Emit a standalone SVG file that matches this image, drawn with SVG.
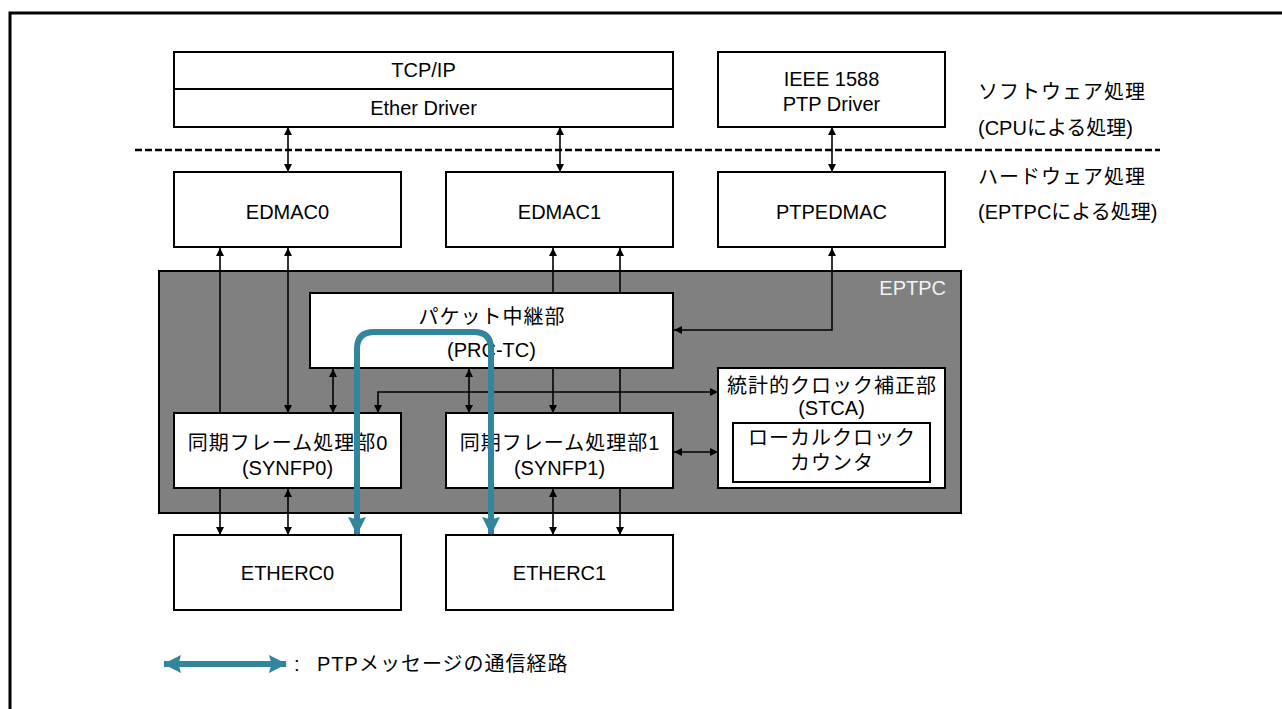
<svg xmlns="http://www.w3.org/2000/svg" width="1282" height="709" viewBox="0 0 1282 709">
<style>
text{font-family:"Liberation Sans","Noto Sans CJK JP",sans-serif;font-size:20px;fill:#000}
.c{text-anchor:middle}
.j{letter-spacing:1px}
.box{fill:#fff;stroke:#000;stroke-width:2}
.ln{fill:none;stroke:#000;stroke-width:1.6}
.tl{fill:none;stroke:#31859C;stroke-width:6}
</style>
<defs>
<marker id="ah" viewBox="0 0 10 10" refX="10" refY="5" markerWidth="9" markerHeight="8" markerUnits="userSpaceOnUse" orient="auto-start-reverse"><path d="M0,0 L10,5 L0,10 z" fill="#000"/></marker>
<marker id="th" viewBox="0 0 10 10" refX="9.5" refY="5" markerWidth="18" markerHeight="19" markerUnits="userSpaceOnUse" orient="auto-start-reverse"><path d="M0,0 L10,5 L0,10 L1.5,5 z" fill="#31859C"/></marker>
</defs>
<rect width="1282" height="709" fill="#fff"/>
<path d="M10,709 V13 H1282" fill="none" stroke="#000" stroke-width="3"/>
<line x1="135" y1="150" x2="1160" y2="150" stroke="#000" stroke-width="2.5" stroke-dasharray="7 3"/>
<g id="eptpc"><rect x="159" y="271" width="802" height="242" fill="#808080" stroke="#000" stroke-width="2"/><text x="946" y="295" style="text-anchor:end;fill:#f2f2f2">EPTPC</text></g>
<g id="connectors">
<line class="ln" x1="288" y1="127" x2="288" y2="172" marker-start="url(#ah)" marker-end="url(#ah)"/>
<line class="ln" x1="560" y1="127" x2="560" y2="172" marker-start="url(#ah)" marker-end="url(#ah)"/>
<line class="ln" x1="832" y1="127" x2="832" y2="172" marker-start="url(#ah)" marker-end="url(#ah)"/>
<line class="ln" x1="220" y1="413" x2="220" y2="248" marker-end="url(#ah)"/>
<line class="ln" x1="288" y1="248" x2="288" y2="413" marker-start="url(#ah)" marker-end="url(#ah)"/>
<line class="ln" x1="553" y1="248" x2="553" y2="413" marker-start="url(#ah)" marker-end="url(#ah)"/>
<line class="ln" x1="620" y1="413" x2="620" y2="248" marker-end="url(#ah)"/>
<polyline class="ln" points="832,248 832,330 674,330" marker-start="url(#ah)" marker-end="url(#ah)"/>
<line class="ln" x1="333" y1="369" x2="333" y2="413" marker-start="url(#ah)" marker-end="url(#ah)"/>
<line class="ln" x1="469" y1="369" x2="469" y2="413" marker-start="url(#ah)" marker-end="url(#ah)"/>
<polyline class="ln" points="378,413 378,392 718,392" marker-start="url(#ah)" marker-end="url(#ah)"/>
<line class="ln" x1="674" y1="452" x2="718" y2="452" marker-start="url(#ah)" marker-end="url(#ah)"/>
<line class="ln" x1="220" y1="489" x2="220" y2="535" marker-end="url(#ah)"/>
<line class="ln" x1="288" y1="489" x2="288" y2="535" marker-start="url(#ah)" marker-end="url(#ah)"/>
<line class="ln" x1="553" y1="489" x2="553" y2="535" marker-start="url(#ah)" marker-end="url(#ah)"/>
<line class="ln" x1="620" y1="489" x2="620" y2="535" marker-end="url(#ah)"/>
</g>
<g id="tcpip"><rect class="box" x="174" y="52" width="499" height="75"/><line x1="174" y1="89" x2="673" y2="89" stroke="#000" stroke-width="2"/><text class="c" x="423.5" y="77">TCP/IP</text><text class="c" x="423.5" y="115">Ether Driver</text></g>
<g id="ptpdriver"><rect class="box" x="718" y="52" width="227" height="75"/><text class="c" x="831.5" y="86">IEEE 1588</text><text class="c" x="831.5" y="111">PTP Driver</text></g>
<g id="labels">
<text class="j" x="978" y="99">ソフトウェア処理</text>
<text x="978" y="135">(CPUによる処理)</text>
<text class="j" x="978" y="184">ハードウェア処理</text>
<text x="978" y="219">(EPTPCによる処理)</text>
</g>
<g id="edmac0"><rect class="box" x="174" y="172" width="227" height="75"/><text class="c" x="287.5" y="219">EDMAC0</text></g>
<g id="edmac1"><rect class="box" x="446" y="172" width="227" height="75"/><text class="c" x="559.5" y="219">EDMAC1</text></g>
<g id="ptpedmac"><rect class="box" x="718" y="172" width="227" height="75"/><text class="c" x="831.5" y="219">PTPEDMAC</text></g>
<g id="prctc"><rect class="box" x="310" y="293" width="363" height="75"/><text class="c j" x="492" y="324">パケット中継部</text><text class="c" x="491.5" y="357">(PRC-TC)</text></g>
<g id="synfp0"><rect class="box" x="174" y="413" width="227" height="75"/><text class="c j" x="288" y="450">同期フレーム処理部0</text><text class="c" x="287.5" y="475">(SYNFP0)</text></g>
<g id="synfp1"><rect class="box" x="446" y="413" width="227" height="75"/><text class="c j" x="560" y="450">同期フレーム処理部1</text><text class="c" x="559.5" y="475">(SYNFP1)</text></g>
<g id="stca"><rect class="box" x="718" y="368" width="227" height="120"/><text class="c j" x="832" y="393">統計的クロック補正部</text><text class="c" x="831.5" y="415">(STCA)</text>
<g id="localclock"><rect class="box" x="733" y="423" width="197" height="59"/><text class="c j" x="832" y="445">ローカルクロック</text><text class="c j" x="832" y="470">カウンタ</text></g></g>
<g id="etherc0"><rect class="box" x="174" y="535" width="227" height="75"/><text class="c" x="287.5" y="580">ETHERC0</text></g>
<g id="etherc1"><rect class="box" x="446" y="535" width="227" height="75"/><text class="c" x="559.5" y="580">ETHERC1</text></g>
<g id="ptp-path">
<path class="tl" d="M357,534 V349 Q357,332 374,332 H474 Q491,332 491,349 V534" marker-start="url(#th)" marker-end="url(#th)"/>
</g>
<g id="legend">
<line class="tl" x1="164" y1="664" x2="286" y2="664" stroke-width="5" marker-start="url(#th)" marker-end="url(#th)"/>
<text x="294" y="671">:</text>
<text class="j" x="317" y="671">PTPメッセージの通信経路</text>
</g>
</svg>
